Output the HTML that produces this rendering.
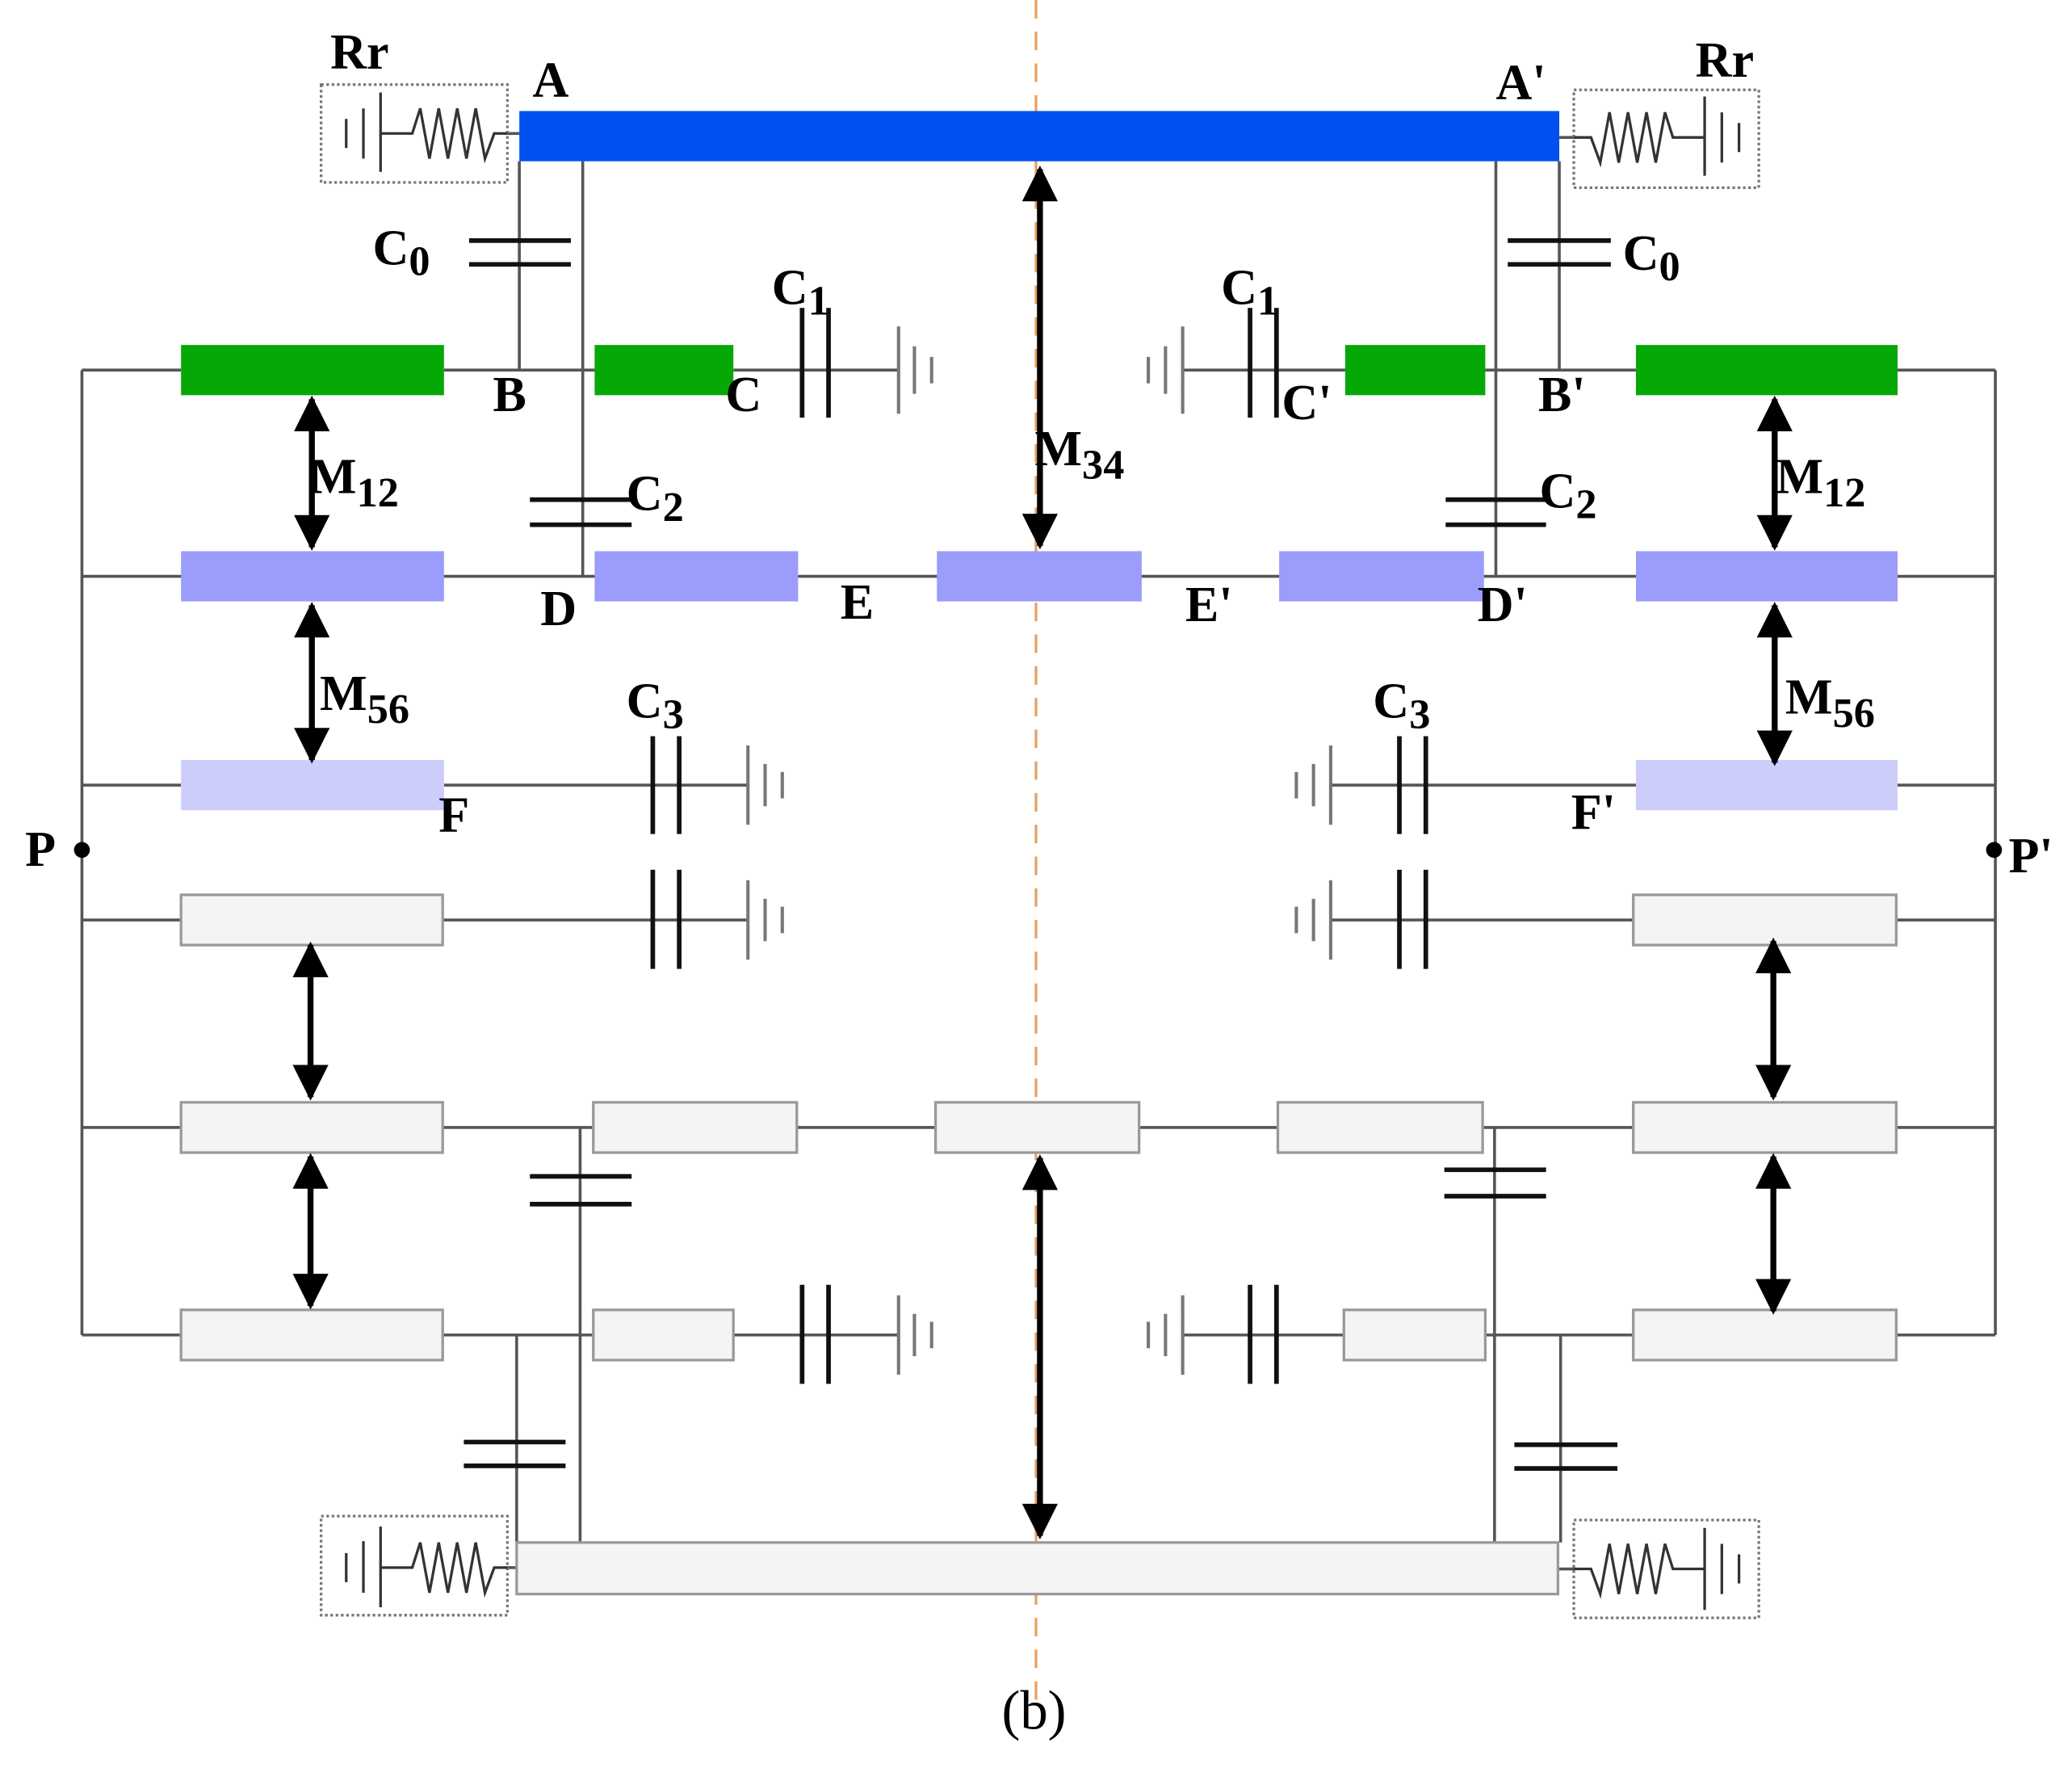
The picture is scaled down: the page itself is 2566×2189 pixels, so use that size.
<!DOCTYPE html>
<html><head><meta charset="utf-8"><style>
html,body{margin:0;padding:0;background:#fff;}
svg{display:block;}
text{font-family:"Liberation Serif",serif;font-weight:bold;fill:#000;}
</style></head><body>
<svg width="2566" height="2189" viewBox="0 0 1568 1337.6" preserveAspectRatio="none" xmlns="http://www.w3.org/2000/svg">
<defs>
<marker id="ah" viewBox="0 0 10 10" refX="9" refY="5" markerWidth="6.5" markerHeight="6" orient="auto-start-reverse"><path d="M0,0 L10,5 L0,10 z" fill="#000"/></marker>
</defs>
<line x1="784" y1="0" x2="784" y2="1292" stroke="#e8a060" stroke-width="2" stroke-dasharray="14,10"/>

<g stroke="#555" stroke-width="2.2" fill="none">
<line x1="62" y1="280" x2="62" y2="1010"/>
<line x1="1510" y1="280" x2="1510" y2="1010"/>
<line x1="62" y1="280" x2="137" y2="280"/><line x1="336" y1="280" x2="450" y2="280"/><line x1="555" y1="280" x2="680" y2="280"/>
<line x1="895" y1="280" x2="1018" y2="280"/><line x1="1124" y1="280" x2="1238" y2="280"/><line x1="1436" y1="280" x2="1510" y2="280"/>
<line x1="62" y1="436" x2="1510" y2="436"/>
<line x1="62" y1="594" x2="137" y2="594"/><line x1="336" y1="594" x2="566" y2="594"/>
<line x1="1007" y1="594" x2="1238" y2="594"/><line x1="1436" y1="594" x2="1510" y2="594"/>
<line x1="62" y1="696" x2="137" y2="696"/><line x1="335" y1="696" x2="566" y2="696"/>
<line x1="1007" y1="696" x2="1236" y2="696"/><line x1="1435" y1="696" x2="1510" y2="696"/>
<line x1="62" y1="853" x2="1510" y2="853"/>
<line x1="62" y1="1010" x2="137" y2="1010"/><line x1="335" y1="1010" x2="449" y2="1010"/><line x1="555" y1="1010" x2="680" y2="1010"/>
<line x1="895" y1="1010" x2="1017" y2="1010"/><line x1="1124" y1="1010" x2="1236" y2="1010"/><line x1="1435" y1="1010" x2="1510" y2="1010"/>
<line x1="393" y1="122" x2="393" y2="280"/><line x1="441" y1="122" x2="441" y2="436"/>
<line x1="1132" y1="122" x2="1132" y2="436"/><line x1="1180" y1="122" x2="1180" y2="280"/>
<line x1="439" y1="853" x2="439" y2="1167"/><line x1="391" y1="1010" x2="391" y2="1167"/>
<line x1="1131" y1="853" x2="1131" y2="1167"/><line x1="1181" y1="1010" x2="1181" y2="1167"/>
<line x1="384" y1="101" x2="393" y2="101"/><line x1="1180" y1="104" x2="1191" y2="104"/>
<line x1="384" y1="1186" x2="391" y2="1186"/><line x1="1179" y1="1187" x2="1191" y2="1187"/>
</g>

<g>
<rect x="393" y="84" width="787" height="38" fill="#0050f0"/>
<rect x="137" y="261" width="199" height="38" fill="#06a806"/>
<rect x="450" y="261" width="105" height="38" fill="#06a806"/>
<rect x="1018" y="261" width="106" height="38" fill="#06a806"/>
<rect x="1238" y="261" width="198" height="38" fill="#06a806"/>
<g fill="#9c9cfa">
<rect x="137" y="417" width="199" height="38"/><rect x="450" y="417" width="154" height="38"/>
<rect x="709" y="417" width="155" height="38"/><rect x="968" y="417" width="155" height="38"/>
<rect x="1238" y="417" width="198" height="38"/>
</g>
<rect x="137" y="575" width="199" height="38" fill="#cdcdfb"/>
<rect x="1238" y="575" width="198" height="38" fill="#cdcdfb"/>
<g fill="#f4f4f4" stroke="#999" stroke-width="2">
<rect x="137" y="677" width="198" height="38"/><rect x="1236" y="677" width="199" height="38"/>
<rect x="137" y="834" width="198" height="38"/><rect x="449" y="834" width="154" height="38"/>
<rect x="708" y="834" width="154" height="38"/><rect x="967" y="834" width="155" height="38"/>
<rect x="1236" y="834" width="199" height="38"/>
<rect x="137" y="991" width="198" height="38"/><rect x="449" y="991" width="106" height="38"/>
<rect x="1017" y="991" width="107" height="38"/><rect x="1236" y="991" width="199" height="38"/>
<rect x="391" y="1167" width="788" height="39"/>
</g>
</g>

<g stroke="#111" stroke-width="3.5">
<line x1="355" y1="182" x2="432" y2="182"/><line x1="355" y1="200" x2="432" y2="200"/>
<line x1="1141" y1="182" x2="1219" y2="182"/><line x1="1141" y1="200" x2="1219" y2="200"/>
<line x1="401" y1="378" x2="478" y2="378"/><line x1="401" y1="397" x2="478" y2="397"/>
<line x1="1094" y1="378" x2="1170" y2="378"/><line x1="1094" y1="397" x2="1170" y2="397"/>
<line x1="401" y1="890" x2="478" y2="890"/><line x1="401" y1="911" x2="478" y2="911"/>
<line x1="1093" y1="885" x2="1170" y2="885"/><line x1="1093" y1="905" x2="1170" y2="905"/>
<line x1="351" y1="1091" x2="428" y2="1091"/><line x1="351" y1="1109" x2="428" y2="1109"/>
<line x1="1146" y1="1093" x2="1224" y2="1093"/><line x1="1146" y1="1111" x2="1224" y2="1111"/>
</g>

<g stroke="#111" stroke-width="3.5">
<line x1="607" y1="233" x2="607" y2="316"/><line x1="627" y1="233" x2="627" y2="316"/>
<line x1="946" y1="233" x2="946" y2="316"/><line x1="966" y1="233" x2="966" y2="316"/>
<line x1="494" y1="557" x2="494" y2="631"/><line x1="514" y1="557" x2="514" y2="631"/>
<line x1="1059" y1="557" x2="1059" y2="631"/><line x1="1079" y1="557" x2="1079" y2="631"/>
<line x1="494" y1="658" x2="494" y2="733"/><line x1="514" y1="658" x2="514" y2="733"/>
<line x1="1059" y1="658" x2="1059" y2="733"/><line x1="1079" y1="658" x2="1079" y2="733"/>
<line x1="607" y1="972" x2="607" y2="1047"/><line x1="627" y1="972" x2="627" y2="1047"/>
<line x1="946" y1="972" x2="946" y2="1047"/><line x1="966" y1="972" x2="966" y2="1047"/>
</g>
<g stroke="#777" stroke-width="2.5">
<path d="M680,247V313 M692,262V298 M705,270V290"/>
<path d="M895,247V313 M882,262V298 M869,270V290"/>
<path d="M566,564V624 M579,578V610 M592,584V604"/>
<path d="M1007,564V624 M994,578V610 M981,584V604"/>
<path d="M566,666V726 M579,680V712 M592,686V706"/>
<path d="M1007,666V726 M994,680V712 M981,686V706"/>
<path d="M680,980V1040 M692,994V1026 M705,1000V1020"/>
<path d="M895,980V1040 M882,994V1026 M869,1000V1020"/>
</g>

<g fill="none">
<rect x="243" y="64" width="141" height="74" stroke="#777" stroke-width="2" stroke-dasharray="2,2"/>
<rect x="1191" y="68" width="140" height="74" stroke="#777" stroke-width="2" stroke-dasharray="2,2"/>
<rect x="243" y="1147" width="141" height="75" stroke="#777" stroke-width="2" stroke-dasharray="2,2"/>
<rect x="1191" y="1150" width="140" height="74" stroke="#777" stroke-width="2" stroke-dasharray="2,2"/>
<g stroke="#333" stroke-width="2">
<path d="M262,90V112 M275,82V120 M288,70V130 M288,101H312 L318,82 L325,120 L332,82 L339,120 L346,82 L353,120 L360,82 L367,120 L374,101 H384"/>
<path d="M1316,93V115 M1303,85V123 M1290,73V133 M1290,104H1266 L1260,85 L1253,123 L1246,85 L1239,123 L1232,85 L1225,123 L1218,85 L1211,123 L1204,104 H1191"/>
<path d="M262,1175V1197 M275,1166V1205 M288,1155V1216 M288,1186H312 L318,1167 L325,1205 L332,1167 L339,1205 L346,1167 L353,1205 L360,1167 L367,1205 L374,1186 H384"/>
<path d="M1316,1176V1198 M1303,1168V1206 M1290,1156V1218 M1290,1187H1266 L1260,1168 L1253,1206 L1246,1168 L1239,1206 L1232,1168 L1225,1206 L1218,1168 L1211,1206 L1204,1187 H1191"/>
</g>
</g>

<g stroke="#000" stroke-width="4.5" marker-start="url(#ah)" marker-end="url(#ah)">
<line x1="236" y1="302" x2="236" y2="414"/><line x1="236" y1="458" x2="236" y2="575"/>
<line x1="1343" y1="302" x2="1343" y2="414"/><line x1="1343" y1="458" x2="1343" y2="577"/>
<line x1="235" y1="715" x2="235" y2="830"/><line x1="235" y1="875" x2="235" y2="988"/>
<line x1="1342" y1="712" x2="1342" y2="830"/><line x1="1342" y1="875" x2="1342" y2="992"/>
<line x1="787" y1="128" x2="787" y2="413"/><line x1="787" y1="876" x2="787" y2="1162"/>
</g>

<circle cx="62" cy="643" r="6" fill="#000"/>
<circle cx="1509" cy="643" r="6" fill="#000"/>

<g font-size="38">
<text x="250" y="52">Rr</text>
<text x="1283" y="58">Rr</text>
<text x="403" y="73">A</text>
<text x="1132" y="75">A'</text>
<text x="282" y="200">C<tspan font-size="32" dy="8">0</tspan></text>
<text x="1228" y="204">C<tspan font-size="32" dy="8">0</tspan></text>
<text x="584" y="230">C<tspan font-size="32" dy="8">1</tspan></text>
<text x="924" y="230">C<tspan font-size="32" dy="8">1</tspan></text>
<text x="373" y="311">B</text>
<text x="549" y="311">C</text>
<text x="970" y="317">C'</text>
<text x="1164" y="311">B'</text>
<text x="234" y="373">M<tspan font-size="32" dy="10">12</tspan></text>
<text x="1344" y="373">M<tspan font-size="32" dy="10">12</tspan></text>
<text x="783" y="352">M<tspan font-size="32" dy="10">34</tspan></text>
<text x="474" y="386">C<tspan font-size="32" dy="8">2</tspan></text>
<text x="1165" y="384">C<tspan font-size="32" dy="8">2</tspan></text>
<text x="409" y="473">D</text>
<text x="636" y="468">E</text>
<text x="897" y="470">E'</text>
<text x="1118" y="470">D'</text>
<text x="242" y="537">M<tspan font-size="32" dy="10">56</tspan></text>
<text x="1351" y="540">M<tspan font-size="32" dy="10">56</tspan></text>
<text x="474" y="543">C<tspan font-size="32" dy="8">3</tspan></text>
<text x="1039" y="543">C<tspan font-size="32" dy="8">3</tspan></text>
<text x="332" y="629">F</text>
<text x="1189" y="627">F'</text>
<text x="19" y="655">P</text>
<text x="1520" y="660">P'</text>
</g>
<text x="758" y="1308" font-size="42" style="font-weight:normal">(b)</text>
</svg>
</body></html>
